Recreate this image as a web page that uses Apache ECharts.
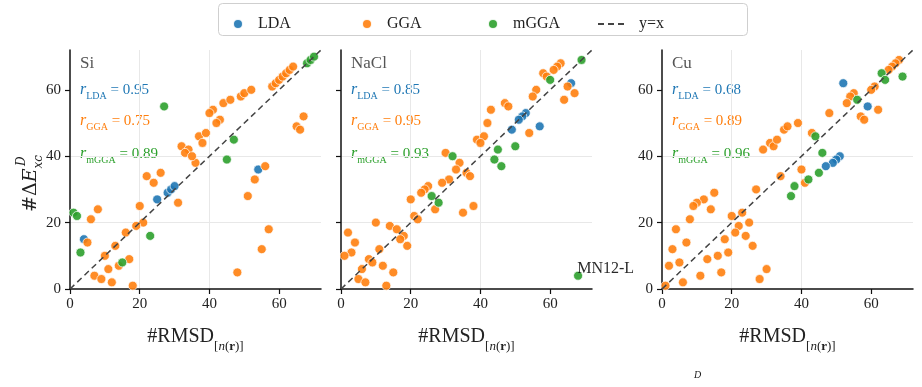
<!DOCTYPE html>
<html>
<head>
<meta charset="utf-8">
<script src="https://cdn.jsdelivr.net/npm/echarts@6/dist/echarts.min.js"></script>
<style>
  html, body { margin: 0; padding: 0; background: #fff; }
  #main { width: 922px; height: 387px; }
</style>
</head>
<body>
<div id="main"></div>
<script>
  var panels = ['Si', 'NaCl', 'Cu']
  var tickValues = [0, 20, 40, 60]
  var diag = [[0, 0], [72, 72]]
  var rLDA = [0.95, 0.85, 0.68]
  var rGGA = [0.75, 0.95, 0.89]
  var rmGGA = [0.89, 0.93, 0.96]
  var outlierName = 'MN12-L'

  var siLDA = [[4, 15], [25, 27], [28, 29], [29, 30], [30, 31], [54, 36]]
  var siGGA = [[22, 34], [26, 35], [24, 32], [31, 26], [36, 38], [20, 25], [21, 20], [8, 24], [6, 21], [5, 14],
    [16, 17], [19, 19], [13, 13], [10, 10], [17, 9], [14, 7], [11, 6], [7, 4], [9, 3], [12, 2], [18, 1],
    [32, 43], [34, 42], [33, 41], [35, 40], [37, 46], [39, 47], [38, 44], [41, 54], [40, 53], [43, 51], [42, 50],
    [44, 56], [46, 57], [49, 58], [50, 59], [52, 60], [58, 61], [59, 62], [60, 63], [61, 64], [62, 65], [63, 66],
    [64, 67], [67, 52], [65, 49], [66, 48], [56, 37], [53, 33], [51, 28], [57, 18], [55, 12], [48, 5]]
  var simGGA = [[27, 55], [1, 23], [2, 22], [3, 11], [23, 16], [15, 8], [47, 45], [45, 39], [68, 68], [69, 69], [70, 70]]

  var naclLDA = [[66, 62], [53, 53], [52, 52], [51, 51], [49, 48], [57, 49]]
  var naclGGA = [[30, 41], [34, 38], [33, 36], [36, 35], [37, 34], [31, 33], [29, 32], [25, 31], [24, 30], [23, 29],
    [27, 24], [35, 23], [38, 25], [20, 27], [21, 22], [22, 21], [10, 20], [14, 19], [16, 18], [18, 16], [17, 15],
    [19, 13], [2, 17], [4, 14], [3, 11], [1, 10], [11, 12], [8, 9], [9, 8], [6, 6], [12, 7], [15, 5], [5, 3],
    [7, 2], [13, 1], [63, 68], [62, 67], [61, 66], [58, 65], [59, 64], [65, 61], [67, 59], [64, 57], [56, 60],
    [55, 58], [54, 47], [47, 56], [48, 55], [43, 54], [42, 50], [39, 45], [41, 46], [40, 44]]
  var naclmGGA = [[69, 69], [60, 63], [32, 40], [26, 28], [28, 26], [45, 42], [50, 43], [44, 39], [46, 37], [68, 4]]

  var cuLDA = [[52, 62], [59, 55], [51, 40], [50, 39], [49, 38], [47, 37]]
  var cuGGA = [[29, 42], [31, 44], [32, 43], [33, 45], [35, 48], [36, 49], [34, 34], [27, 30], [15, 29], [12, 27],
    [10, 26], [9, 25], [14, 24], [8, 21], [4, 18], [20, 22], [23, 23], [25, 20], [22, 19], [21, 17], [24, 16],
    [18, 15], [7, 14], [26, 13], [3, 12], [19, 11], [16, 10], [13, 9], [5, 8], [2, 7], [17, 5], [11, 4], [30, 6],
    [28, 3], [6, 2], [1, 1], [68, 69], [67, 68], [66, 67], [65, 66], [61, 61], [60, 60], [55, 59], [54, 58],
    [53, 56], [62, 54], [57, 52], [58, 51], [48, 53], [39, 50], [43, 47], [40, 36], [41, 32]]
  var cumGGA = [[63, 65], [64, 63], [69, 64], [56, 57], [44, 46], [46, 41], [45, 35], [42, 33], [38, 31], [37, 28]]

  var sets = [[siLDA, siGGA, simGGA], [naclLDA, naclGGA, naclmGGA], [cuLDA, cuGGA, cumGGA]]
  var names = ['LDA', 'GGA', 'mGGA']
  var colors = ['#1f77b4', '#ff7f0e', '#2ca02c']
  var serif = '"Liberation Serif", "DejaVu Serif", serif'

  var gridLeft = [70, 341, 662]
  var gridWidth = 251
  var gridTop = 50
  var gridHeight = 239

  var grids = [], xAxes = [], yAxes = [], series = [], graphics = []

  panels.forEach(function (p, i) {
    grids.push({ left: gridLeft[i], top: gridTop, width: gridWidth, height: gridHeight })
    xAxes.push({
      gridIndex: i, type: 'value', min: 0, max: 72, interval: 20,
      name: '{a|#RMSD}{s|[}{i|n}{s|(}{b|r}{s|)]}',
      nameLocation: 'middle', nameGap: 38,
      nameTextStyle: {
        rich: {
          a: { fontFamily: serif, fontSize: 20, color: '#222', lineHeight: 26, verticalAlign: 'top' },
          s: { fontFamily: serif, fontSize: 13, color: '#222', lineHeight: 26, verticalAlign: 'bottom' },
          i: { fontFamily: serif, fontSize: 13, fontStyle: 'italic', color: '#222', lineHeight: 26, verticalAlign: 'bottom' },
          b: { fontFamily: serif, fontSize: 13, fontWeight: 'bold', color: '#222', lineHeight: 26, verticalAlign: 'bottom' }
        }
      },
      axisLine: { onZero: false, lineStyle: { color: '#111', width: 1.5 } },
      axisTick: { length: 5, lineStyle: { color: '#111', width: 1.2 }, customValues: tickValues },
      axisLabel: { fontFamily: serif, fontSize: 15, color: '#222', margin: 8, customValues: tickValues },
      splitLine: { show: true, showMinLine: false, showMaxLine: false, lineStyle: { color: '#e8e8e8', width: 1 } }
    })
    yAxes.push({
      gridIndex: i, type: 'value', min: 0, max: 72, interval: 20,
      axisLine: { show: true, onZero: false, lineStyle: { color: '#111', width: 1.5 } },
      axisTick: { show: true, length: 5, lineStyle: { color: '#111', width: 1.2 }, customValues: tickValues },
      axisLabel: { show: i !== 1, fontFamily: serif, fontSize: 15, color: '#222', margin: 9, customValues: tickValues },
      splitLine: { show: true, showMinLine: false, showMaxLine: false, lineStyle: { color: '#e8e8e8', width: 1 } }
    })

    names.forEach(function (n, k) {
      var data = sets[i][k].map(function (d) {
        if (i === 1 && k === 2 && d[0] === 68) {
          return {
            value: d,
            label: {
              show: true, formatter: outlierName, position: [4, -10], align: 'left', verticalAlign: 'top',
              fontFamily: serif, fontSize: 16, color: '#111'
            }
          }
        }
        return d
      })
      series.push({
        name: n, type: 'scatter', xAxisIndex: i, yAxisIndex: i, symbolSize: 9,
        itemStyle: { color: colors[k], borderColor: '#fff', borderWidth: 0.8, opacity: 0.9 },
        data: data
      })
    })
    series.push({
      name: 'y=x', type: 'line', xAxisIndex: i, yAxisIndex: i, data: diag, symbol: 'none', z: 5,
      itemStyle: { color: '#444' },
      lineStyle: { color: '#444', width: 1.5, type: [6, 4] }
    })

    var x0 = gridLeft[i] + 10
    graphics.push({
      type: 'text', x: x0, y: 64,
      style: { text: p, font: '17px ' + serif, fill: '#555', textVerticalAlign: 'middle' }
    })
    var rows = [['LDA', rLDA[i], 90], ['GGA', rGGA[i], 121], ['mGGA', rmGGA[i], 154]]
    rows.forEach(function (r, k) {
      graphics.push({
        type: 'text', x: x0, y: r[2],
        style: {
          text: '{r|r}{s|' + r[0] + '}{v| = ' + r[1].toFixed(2) + '}',
          textVerticalAlign: 'middle',
          rich: {
            r: { fontFamily: serif, fontStyle: 'italic', fontSize: 16, fill: colors[k], lineHeight: 22, verticalAlign: 'middle' },
            s: { fontFamily: serif, fontSize: 10, fill: colors[k], lineHeight: 22, verticalAlign: 'bottom' },
            v: { fontFamily: serif, fontSize: 15, fill: colors[k], lineHeight: 22, verticalAlign: 'middle' }
          }
        }
      })
    })
  })

  // y label, rotated
  graphics.push({
    type: 'text', x: 31, y: 212, rotation: Math.PI / 2,
    style: {
      text: '{n|#Δ}{e|E}{s|xc}',
      textAlign: 'left', textVerticalAlign: 'middle',
      rich: {
        n: { fontFamily: '"DejaVu Serif", serif', fontSize: 19, fill: '#222', lineHeight: 28, verticalAlign: 'middle' },
        e: { fontFamily: '"DejaVu Serif", serif', fontSize: 19, fontStyle: 'italic', fill: '#222', lineHeight: 28, verticalAlign: 'middle' },
        s: { fontFamily: '"DejaVu Serif", serif', fontSize: 12, fontStyle: 'italic', fill: '#222', lineHeight: 28, verticalAlign: 'bottom' }
      }
    }
  })
  graphics.push({
    type: 'text', x: 22, y: 166, rotation: Math.PI / 2,
    style: { text: 'D', font: 'italic 12px "DejaVu Serif", serif', fill: '#222', textAlign: 'left', textVerticalAlign: 'middle' }
  })
  graphics.push({
    type: 'text', x: 694, y: 370,
    style: { text: 'D', font: 'italic 10px ' + serif, fill: '#222' }
  })
  // legend frame
  graphics.push({
    type: 'rect', z: -1, shape: { x: 218.5, y: 3.5, width: 529, height: 32, r: 4 },
    style: { fill: '#fff', stroke: '#cfcfcf', lineWidth: 1 }
  })

  var legendText = { fontFamily: serif, fontSize: 16, color: '#222' }
  var legends = [
    { data: ['LDA'], left: 227 },
    { data: ['GGA'], left: 356 },
    { data: ['mGGA'], left: 482 },
    { data: [{ name: 'y=x', itemStyle: { opacity: 0 } }], left: 592, textStyle: { fontFamily: serif, fontSize: 16, color: '#222', padding: [0, 0, 0, 6] } }
  ].map(function (l) {
    return {
      data: l.data, left: l.left, top: 11, itemWidth: 30, itemHeight: 10, selectedMode: false,
      textStyle: l.textStyle || legendText
    }
  })

  var chart = echarts.init(document.getElementById('main'))
  chart.setOption({
    animation: false,
    legend: legends,
    grid: grids,
    xAxis: xAxes,
    yAxis: yAxes,
    series: series,
    graphic: graphics
  })
</script>
</body>
</html>
